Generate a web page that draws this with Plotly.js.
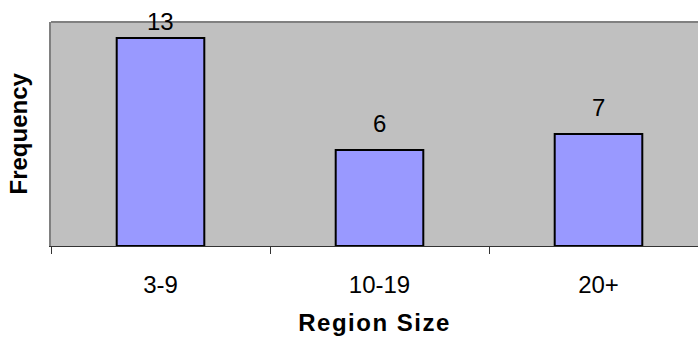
<!DOCTYPE html>
<html>
<head>
<meta charset="utf-8">
<script src="https://cdn.plot.ly/plotly-3.0.1.min.js"></script>
<style>
  html, body { margin: 0; padding: 0; background: #ffffff; }
  #chart { width: 698px; height: 339px; }
  #chart .xtitle { letter-spacing: 1.5px; }
</style>
</head>
<body>
<div id="chart"></div>
<script>
// Region size distribution
const regionSizes = ["3-9", "10-19", "20+"];
const frequencies = [13, 6, 7];
const valueLabels = ["13", "6", "7"];

const FONT = "Liberation Sans, Arial, sans-serif";
const W = 698, H = 339;
const M = { l: 51, r: 0, t: 22, b: 93 };
const Y_MAX = 14;
const CATEGORY_PX = 219;              // width of one category slot
const plotW = W - M.l - M.r;
const plotH = H - M.t - M.b;

// Value labels sit above each bar, but are kept inside the top of the figure.
const LABEL_GAP = 27;
const LABEL_MIN_CENTER = 21;
const annotations = frequencies.map((v, i) => {
  const barTop = M.t + (1 - v / Y_MAX) * plotH;
  const shift = Math.min(LABEL_GAP, barTop - LABEL_MIN_CENTER);
  return {
    x: regionSizes[i], y: v, xref: "x", yref: "y",
    text: valueLabels[i], showarrow: false,
    yanchor: "middle", yshift: shift,
    font: { family: FONT, size: 24, color: "#000000" }
  };
});

// Vertical axis title
annotations.push({
  xref: "paper", yref: "paper", x: -51 / plotW, y: 0.5,
  xanchor: "left", yanchor: "middle", xshift: 2,
  text: "<b>Frequency</b>", textangle: -90, showarrow: false,
  font: { family: FONT, size: 24, color: "#000000" }
});

const trace = {
  type: "bar",
  x: regionSizes,
  y: frequencies,
  width: 0.4,
  marker: { color: "#9999FF", line: { color: "#000000", width: 2 } },
  hoverinfo: "x+y"
};

const layout = {
  width: W, height: H,
  margin: M,
  paper_bgcolor: "#ffffff",
  plot_bgcolor: "#C0C0C0",
  showlegend: false,
  font: { family: FONT, size: 24, color: "#000000" },
  xaxis: {
    type: "category",
    range: [-0.5, -0.5 + plotW / CATEGORY_PX],
    tickson: "boundaries",
    ticks: "outside", ticklen: 7, tickwidth: 1, tickcolor: "#333333",
    ticklabelstandoff: 17,
    showline: true, linecolor: "#333333", linewidth: 1,
    showgrid: false, zeroline: false,
    tickfont: { family: FONT, size: 24, color: "#000000" },
    title: { text: "<b>Region Size</b>", standoff: 17,
             font: { family: FONT, size: 24, color: "#000000" } },
    automargin: false
  },
  yaxis: {
    range: [0, Y_MAX],
    showticklabels: false, ticks: "",
    showgrid: false, zeroline: false,
    showline: true, linecolor: "#808080", linewidth: 2,
    automargin: false
  },
  shapes: [{
    type: "line", xref: "paper", yref: "paper",
    x0: 0, x1: 1, y0: 1, y1: 1,
    line: { color: "#808080", width: 2 }
  }],
  annotations: annotations,
  bargap: 0.6
};

Plotly.newPlot("chart", [trace], layout, { displayModeBar: false, staticPlot: true });
</script>
</body>
</html>
